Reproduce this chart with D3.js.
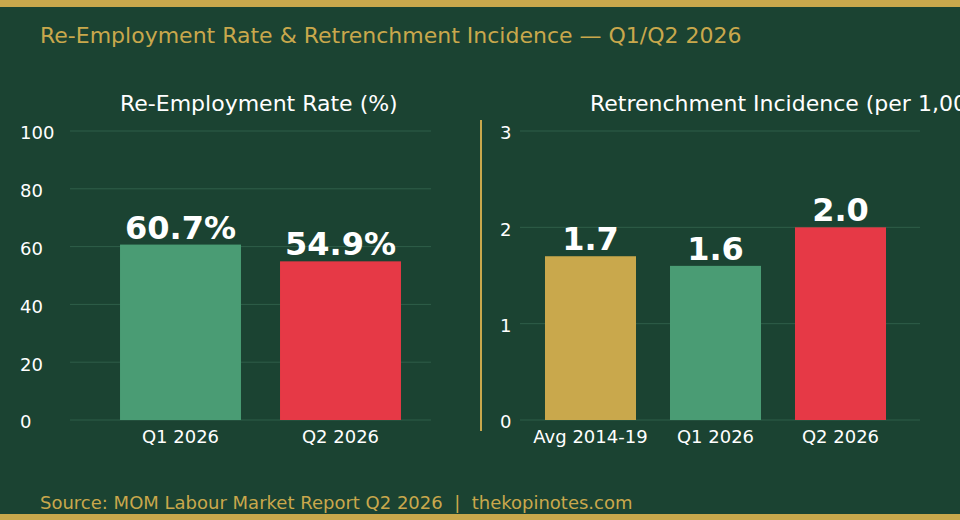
<!DOCTYPE html>
<html><head><meta charset="utf-8">
<script src="https://cdn.jsdelivr.net/npm/d3@7"></script>
<style>html,body{margin:0;padding:0;background:#1b4332;}svg{display:block;font-family:"DejaVu Sans",sans-serif;}</style>
</head><body>
<svg id="c" width="960" height="520"></svg>
<script>
const title = "Re-Employment Rate & Retrenchment Incidence \u2014 Q1/Q2 2026";
const source = "Source: MOM Labour Market Report Q2 2026  |  thekopinotes.com";

const leftTitle = "Re-Employment Rate (%)";
const leftCats = ["Q1 2026", "Q2 2026"];
const leftVals = [60.7, 54.9];
const leftLabels = ["60.7%", "54.9%"];
const leftColors = ["#4a9c74", "#e63946"];
const leftTicks = [0, 20, 40, 60, 80, 100];

const rightTitle = "Retrenchment Incidence (per 1,000 employees)";
const rightCats = ["Avg 2014-19", "Q1 2026", "Q2 2026"];
const rightVals = [1.7, 1.6, 2.0];
const rightLabels = ["1.7", "1.6", "2.0"];
const rightColors = ["#c9a84c", "#4a9c74", "#e63946"];
const rightTicks = [0, 1, 2, 3];

const BG = "#1b4332", GOLD = "#c9a84c", GRID = "#2f5e49";
const svg = d3.select("#c");
svg.append("rect").attr("width",960).attr("height",520).attr("fill",BG);
svg.append("rect").attr("x",0).attr("y",0).attr("width",960).attr("height",7).attr("fill",GOLD);
svg.append("rect").attr("x",0).attr("y",514).attr("width",960).attr("height",6).attr("fill",GOLD);

svg.append("text").attr("x",40).attr("y",43).attr("fill",GOLD).attr("font-size",22).text(title);
svg.append("text").attr("x",40).attr("y",509).attr("fill",GOLD).attr("font-size",18).attr("xml:space","preserve").text(source);

function panel(cfg){
  const g = svg.append("g");
  const y = d3.scaleLinear().domain(cfg.domain).range([420, 131]);
  const x = d3.scaleBand().domain(cfg.cats).range(cfg.xr).paddingInner(cfg.pad).paddingOuter(cfg.pad/2);
  g.selectAll("line.grid").data(cfg.ticks).join("line")
    .attr("x1",cfg.gx[0]).attr("x2",cfg.gx[1])
    .attr("y1",d=>y(d)).attr("y2",d=>y(d))
    .attr("stroke",GRID).attr("stroke-width",1);
  g.selectAll("text.tick").data(cfg.ticks).join("text")
    .attr("x",cfg.tx).attr("y",d=>y(d)+2).attr("dy","0.35em")
    .attr("fill","#ffffff").attr("font-size",18).text(d=>d);
  g.selectAll("rect.bar").data(cfg.vals).join("rect")
    .attr("x",(d,i)=>x(cfg.cats[i])).attr("width",x.bandwidth())
    .attr("y",d=>y(d)).attr("height",d=>y(0)-y(d))
    .attr("fill",(d,i)=>cfg.colors[i]);
  g.selectAll("text.val").data(cfg.vals).join("text")
    .attr("x",(d,i)=>x(cfg.cats[i])+x.bandwidth()/2).attr("y",d=>y(d)-6)
    .attr("text-anchor","middle").attr("fill","#ffffff").attr("font-size",32).attr("font-weight","bold")
    .text((d,i)=>cfg.labels[i]);
  g.selectAll("text.cat").data(cfg.cats).join("text")
    .attr("x",d=>x(d)+x.bandwidth()/2).attr("y",443)
    .attr("text-anchor","middle").attr("fill","#ffffff").attr("font-size",18).text(d=>d);
  g.append("text").attr("x",cfg.titleX).attr("y",111).attr("fill","#ffffff").attr("font-size",22).text(cfg.title);
}

panel({domain:[0,100], cats:leftCats, vals:leftVals, labels:leftLabels, colors:leftColors, ticks:leftTicks,
  xr:[100.5,420.5], pad:0.244, gx:[70,431], tx:20, title:leftTitle, titleX:120});
panel({domain:[0,3], cats:rightCats, vals:rightVals, labels:rightLabels, colors:rightColors, ticks:rightTicks,
  xr:[528,903], pad:0.272, gx:[520,920], tx:500, title:rightTitle, titleX:590});

svg.append("line").attr("x1",481).attr("x2",481).attr("y1",120).attr("y2",431).attr("stroke",GOLD).attr("stroke-width",2);
</script>
</body></html>
